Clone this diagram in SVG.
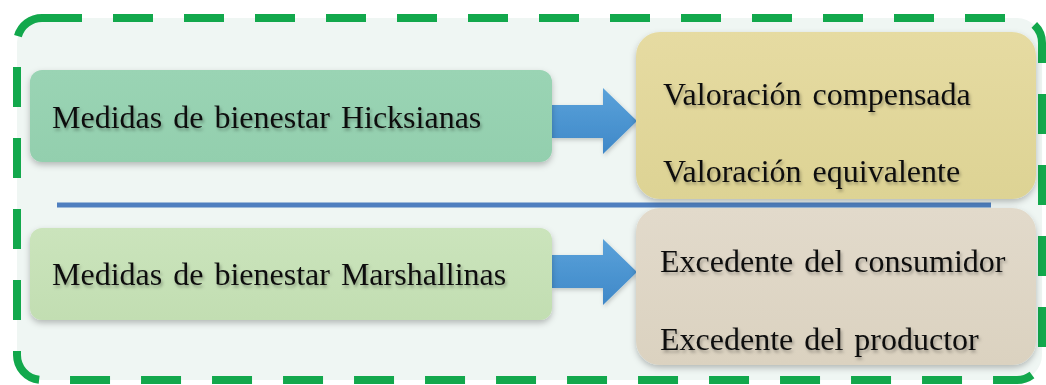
<svg xmlns="http://www.w3.org/2000/svg" width="1046" height="385" viewBox="0 0 1046 385">
<style>
.t{font-family:"Liberation Serif","Times New Roman",serif;font-size:32px;fill:#111;word-spacing:3px;filter:url(#ts)}
.box{filter:url(#bs)}
.arrow{fill:url(#ag);filter:url(#as)}
</style>
<defs>
<filter id="ts" x="-5%" y="-30%" width="110%" height="160%">
<feDropShadow dx="1.5" dy="2.5" stdDeviation="1.8" flood-color="#000" flood-opacity="0.3"/>
</filter>
<filter id="bs" x="-5%" y="-10%" width="110%" height="125%">
<feDropShadow dx="0" dy="3" stdDeviation="3" flood-color="#000" flood-opacity="0.25"/>
</filter>
<filter id="as" x="-10%" y="-10%" width="130%" height="130%">
<feDropShadow dx="1" dy="2" stdDeviation="2" flood-color="#000" flood-opacity="0.2"/>
</filter>
<linearGradient id="ag" x1="0" y1="0" x2="0" y2="1">
<stop offset="0" stop-color="#5AA2DA"/>
<stop offset="1" stop-color="#3F88C8"/>
</linearGradient>
<linearGradient id="g1" x1="0" y1="0" x2="0" y2="1">
<stop offset="0" stop-color="#9AD4B4"/>
<stop offset="1" stop-color="#93CFAE"/>
</linearGradient>
<linearGradient id="g2" x1="0" y1="0" x2="0" y2="1">
<stop offset="0" stop-color="#CBE4BC"/>
<stop offset="1" stop-color="#C2DEB2"/>
</linearGradient>
<linearGradient id="g3" x1="0" y1="0" x2="0" y2="1">
<stop offset="0" stop-color="#E6DBA2"/>
<stop offset="1" stop-color="#DDD394"/>
</linearGradient>
<linearGradient id="g4" x1="0" y1="0" x2="0" y2="1">
<stop offset="0" stop-color="#E2DACB"/>
<stop offset="1" stop-color="#DBD2C0"/>
</linearGradient>
</defs>
<rect width="1046" height="385" fill="#FFFFFF"/>
<g id="frame">
<rect x="17" y="18" width="1025" height="362" rx="25" fill="#EFF6F3"/>
<rect x="17" y="18" width="1025" height="362" rx="25" fill="none" stroke="#12A84C" stroke-width="8" stroke-dasharray="40 31"/>
</g>
<g id="connectors">
<line x1="57" y1="205" x2="991" y2="205" stroke="#4F7FBF" stroke-width="5"/>
<path class="arrow" d="M552,105 H603 V88 L637,121 L603,154 V138 H552 Z"/>
<path class="arrow" d="M552,255 H603 V239 L637,272 L603,305 V288 H552 Z"/>
</g>
<g id="node-hicks">
<rect class="box" x="30" y="70" width="522" height="92" rx="12" fill="url(#g1)"/>
<text class="t" x="52" y="128">Medidas de bienestar Hicksianas</text>
</g>
<g id="node-marshall">
<rect class="box" x="30" y="228" width="522" height="92" rx="12" fill="url(#g2)"/>
<text class="t" x="52" y="285">Medidas de bienestar Marshallinas</text>
</g>
<g id="node-valoracion">
<rect class="box" x="636" y="32" width="400" height="167" rx="24" fill="url(#g3)"/>
<text class="t" x="663" y="105">Valoración compensada</text>
<text class="t" x="663" y="182">Valoración equivalente</text>
</g>
<g id="node-excedente">
<rect class="box" x="636" y="208" width="400" height="157" rx="24" fill="url(#g4)"/>
<text class="t" x="660" y="272">Excedente del consumidor</text>
<text class="t" x="660" y="350">Excedente del productor</text>
</g>
</svg>
